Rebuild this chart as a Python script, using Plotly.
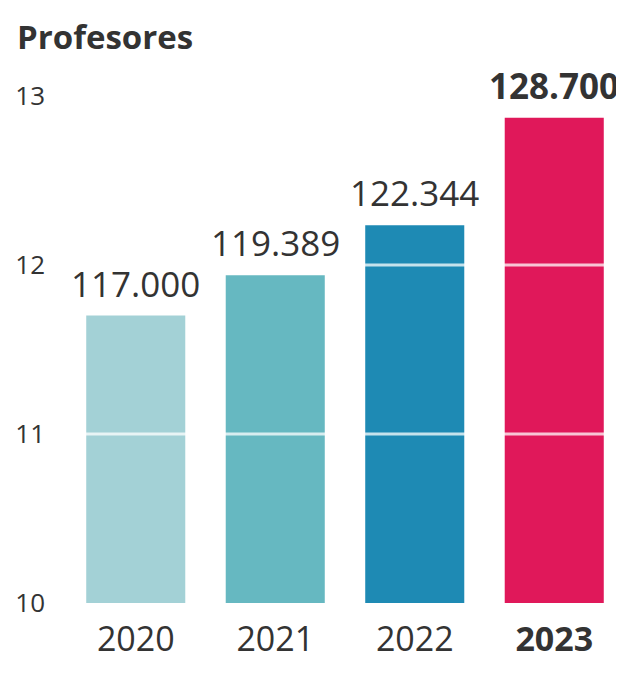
import plotly.graph_objects as go

years = ["2020", "2021", "2022", "2023"]
profesores = [117000, 119389, 122344, 128700]
colors = ["#a3d1d6", "#66b8c1", "#1e8ab4", "#e0185a"]
y_ticks = [10, 11, 12, 13]
title_text = "Profesores"

scale = 10000
y_vals = [v / scale for v in profesores]
labels = [f"{v:,}".replace(",", ".") for v in profesores]
labels[-1] = f"<b>{labels[-1]}</b>"
tick_text = years[:-1] + [f"<b>{years[-1]}</b>"]

FONT = "Open Sans"
TXT = "#333333"
W, H = 616, 665

fig = go.Figure(go.Bar(
    x=years, y=y_vals, marker=dict(color=colors, line=dict(width=0)),
    hoverinfo="skip",
))

annotations = []
for i, (y, t) in enumerate(zip(y_vals, labels)):
    annotations.append(dict(x=i, y=y, xref="x", yref="y", text=t, showarrow=False,
                            yanchor="bottom", yshift=7,
                            font=dict(family=FONT, size=35, color=TXT)))

shapes = []
for v in y_ticks[1:]:
    shapes.append(dict(type="line", xref="paper", x0=0, x1=1, yref="y", y0=v, y1=v,
                       layer="above", line=dict(color="rgba(255,255,255,0.75)", width=3)))

fig.update_layout(
    width=W, height=H,
    margin=dict(l=58, r=0, t=54, b=70),
    paper_bgcolor="white", plot_bgcolor="white",
    bargap=0.29,
    showlegend=False,
    title=dict(text=f"<b>{title_text}</b>", xref="container", yref="container",
               x=9 / W, xanchor="left", y=1 - 29 / H, yanchor="middle",
               font=dict(family=FONT, size=33, color=TXT)),
    xaxis=dict(type="category", range=[-0.5, len(years) - 0.5],
               tickvals=years, ticktext=tick_text, tickangle=0,
               showgrid=False, showline=False, automargin=False,
               zeroline=False, ticks="", ticklabelstandoff=13,
               tickfont=dict(family=FONT, size=34, color=TXT)),
    yaxis=dict(range=[10, 13.2], tickvals=y_ticks, showgrid=False, showline=False,
               zeroline=False, ticks="", ticklabelstandoff=20, automargin=False,
               tickfont=dict(family=FONT, size=26, color=TXT)),
    annotations=annotations,
    shapes=shapes,
)

fig.write_html("out.html")
